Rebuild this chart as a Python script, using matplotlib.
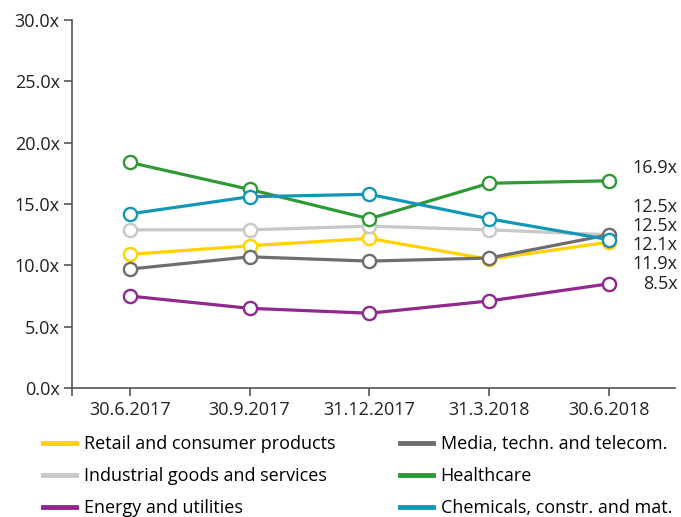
import matplotlib.pyplot as plt
import numpy as np

plt.rcParams['font.family'] = ['Open Sans', 'DejaVu Sans']

dates = ["30.6.2017", "30.9.2017", "31.12.2017", "31.3.2018", "30.6.2018"]

retail = [10.9, 11.6, 12.2, 10.5, 11.9]
industrial = [12.9, 12.9, 13.2, 12.9, 12.5]
energy = [7.5, 6.5, 6.1, 7.1, 8.5]
media = [9.7, 10.7, 10.35, 10.6, 12.5]
healthcare = [18.4, 16.2, 13.8, 16.7, 16.9]
chemicals = [14.2, 15.6, 15.8, 13.8, 12.1]

names = ["Retail and consumer products", "Industrial goods and services",
         "Energy and utilities", "Media, techn. and telecom.",
         "Healthcare", "Chemicals, constr. and mat."]
series = [retail, industrial, energy, media, healthcare, chemicals]
colors = ["#FFD200", "#C8C8C8", "#91278F", "#6E6E6E", "#2F9A35", "#1397B8"]

# end labels, stacked so they don't collide
end_label_y = [10.1, 13.2, 8.48, 14.75, 17.93, 11.65]

fig = plt.figure(figsize=(6.81, 5.17), dpi=100)
ax = fig.add_axes([0.106, 0.2495, 0.885, 0.7115])

x = np.arange(len(dates))
for vals, name, c in zip(series, names, colors):
    ax.plot(x, vals, color=c, lw=2.3, marker='o', ms=9.5,
            mfc='white', mec=c, mew=1.7, label=name)

for vals, ly in zip(series, end_label_y):
    ax.text(4.57, ly, f"{vals[-1]:.1f}x", ha='right', va='center',
            fontsize=13, color='#222222', clip_on=False)

ax.set_xlim(-0.48, 4.55)
ax.set_ylim(0, 30)
ax.set_yticks(np.arange(0, 31, 5))
ax.set_yticklabels([f"{v:.1f}x" for v in np.arange(0, 31, 5)])
ax.set_xticks(x)
ax.set_xticklabels(dates)
ax.set_xticks([-0.48], minor=True)

for s in ['top', 'right']:
    ax.spines[s].set_visible(False)
for s in ['left', 'bottom']:
    ax.spines[s].set_color('#555555')
    ax.spines[s].set_linewidth(1.2)
ax.tick_params(axis='both', which='both', colors='#555555', length=5.5,
               width=1.2, labelsize=13, labelcolor='#222222')

leg_handles = [plt.Line2D([], [], color=c, lw=3.5) for c in colors]
fig.legend(leg_handles, names, ncol=2, loc='upper left',
           bbox_to_anchor=(0.063, 0.158), frameon=False, fontsize=13,
           handlelength=1.85, handletextpad=0.4, columnspacing=3.6,
           labelspacing=0.78, borderaxespad=0, borderpad=0)

fig.savefig("out.png", dpi=100)
